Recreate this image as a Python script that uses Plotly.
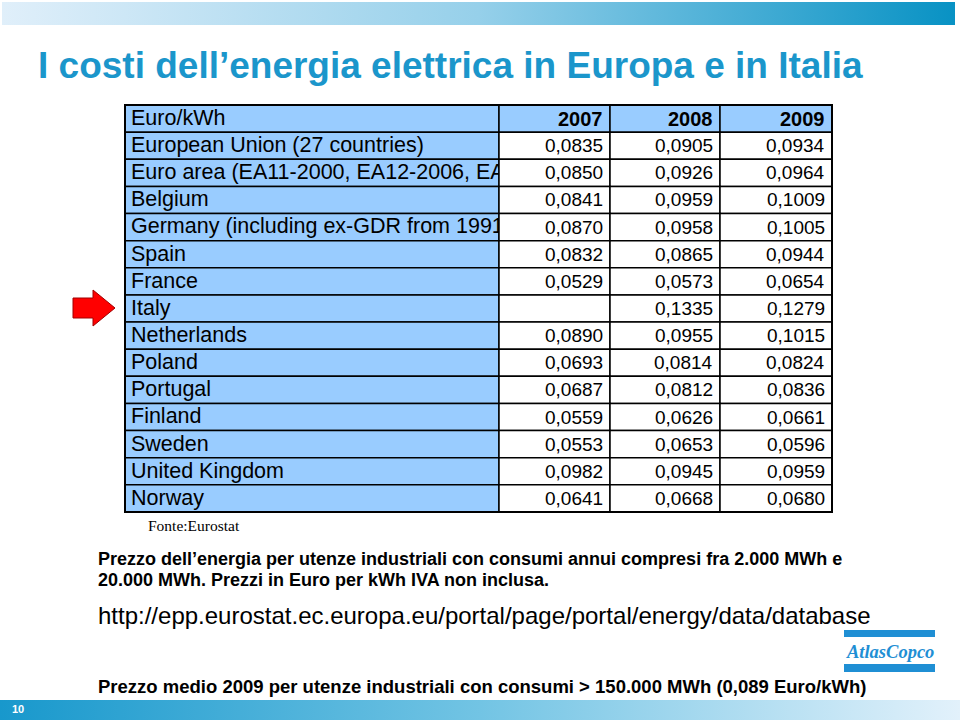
import plotly.graph_objects as go

# ---------------- data ----------------
header_label = "Euro/kWh"
years = ["2007", "2008", "2009"]
countries = [
    "European Union (27 countries)",
    "Euro area (EA11-2000, EA12-2006, EA",
    "Belgium",
    "Germany (including ex-GDR from 1991)",
    "Spain",
    "France",
    "Italy",
    "Netherlands",
    "Poland",
    "Portugal",
    "Finland",
    "Sweden",
    "United Kingdom",
    "Norway",
]
v2007 = [0.0835, 0.0850, 0.0841, 0.0870, 0.0832, 0.0529, None, 0.0890,
         0.0693, 0.0687, 0.0559, 0.0553, 0.0982, 0.0641]
v2008 = [0.0905, 0.0926, 0.0959, 0.0958, 0.0865, 0.0573, 0.1335, 0.0955,
         0.0814, 0.0812, 0.0626, 0.0653, 0.0945, 0.0668]
v2009 = [0.0934, 0.0964, 0.1009, 0.1005, 0.0944, 0.0654, 0.1279, 0.1015,
         0.0824, 0.0836, 0.0661, 0.0596, 0.0959, 0.0680]

title_text = "I costi dell\u2019energia elettrica in Europa e in Italia"
source_text = "Fonte:Eurostat"
note1 = "Prezzo dell\u2019energia per utenze industriali con consumi annui compresi fra 2.000 MWh e"
note2 = "20.000 MWh. Prezzi in Euro per kWh IVA non inclusa."
url_text = "http://epp.eurostat.ec.europa.eu/portal/page/portal/energy/data/database"
note3 = "Prezzo medio 2009 per utenze industriali con consumi > 150.000 MWh (0,089 Euro/kWh)"
page_no = "10"
logo_text = "AtlasCopco"

# ---------------- geometry / style ----------------
FONT = "Liberation Sans, Arial, sans-serif"
SERIF = "Liberation Serif, Times New Roman, serif"
CELL_BLUE = "#99ccff"
TITLE_BLUE = "#1b96cb"
LOGO_BLUE = "#1f8fd4"
col_edges = [125, 499, 610, 720, 832]
TOP = 105
RH = 27.13
n_rows = len(countries) + 1


def fmt(v):
    return "" if v is None else f"{v:.4f}".replace(".", ",")


def row_center(i):
    return TOP + RH * i + RH / 2


fig = go.Figure()

# top gradient bar
fig.add_trace(go.Scatter(
    x=[2, 955, 955, 2, 2], y=[2, 2, 25, 25, 2], mode="lines", fill="toself",
    line=dict(width=0), hoverinfo="skip", showlegend=False,
    fillgradient=dict(type="horizontal", start=2, stop=955,
                      colorscale=[[0, "#e0effa"], [0.5, "#96d0ea"], [1, "#0892c4"]]),
))
# bottom gradient bar
fig.add_trace(go.Scatter(
    x=[0, 960, 960, 0, 0], y=[700, 700, 720, 720, 700], mode="lines", fill="toself",
    line=dict(width=0), hoverinfo="skip", showlegend=False,
    fillgradient=dict(type="horizontal", start=0, stop=960,
                      colorscale=[[0, "#1898cc"], [0.5, "#72c4e4"], [1, "#e2f1fb"]]),
))

shapes = []
# label column cells (below text)
for i in range(n_rows):
    y0 = TOP + RH * i
    shapes.append(dict(type="rect", layer="below", x0=col_edges[0], x1=col_edges[1],
                       y0=y0, y1=y0 + RH, fillcolor=CELL_BLUE,
                       line=dict(color="black", width=1.5)))

# label texts (clipped by the value cells drawn above)
labels = [header_label] + countries
fig.add_trace(go.Scatter(
    x=[col_edges[0] + 6] * n_rows, y=[row_center(i) + 1 for i in range(n_rows)],
    mode="text", text=labels, textposition="middle right",
    textfont=dict(family=FONT, size=21.5, color="black"),
    hoverinfo="skip", showlegend=False,
))

# value cells (above label text)
for i in range(n_rows):
    y0 = TOP + RH * i
    for c in range(3):
        shapes.append(dict(type="rect", layer="above", x0=col_edges[c + 1], x1=col_edges[c + 2],
                           y0=y0, y1=y0 + RH, fillcolor=CELL_BLUE if i == 0 else "white",
                           line=dict(color="black", width=1.5)))
shapes.append(dict(type="rect", layer="above", x0=col_edges[0], x1=col_edges[-1],
                   y0=TOP, y1=TOP + RH * n_rows, line=dict(color="black", width=2)))

# red arrow
shapes.append(dict(type="path", layer="above",
                   path="M 73 298 L 93 298 L 93 290 L 115 308 L 93 326 L 93 318 L 73 318 Z",
                   fillcolor="#ff0000", line=dict(color="#a00000", width=1)))

# logo bars
shapes.append(dict(type="rect", layer="above", x0=844, x1=935, y0=630, y1=637,
                   fillcolor=LOGO_BLUE, line=dict(width=0)))
shapes.append(dict(type="rect", layer="above", x0=844, x1=935, y0=664, y1=672,
                   fillcolor=LOGO_BLUE, line=dict(width=0)))

annotations = []
# header years
for c, yr in enumerate(years):
    annotations.append(dict(x=col_edges[c + 2] - 5, y=row_center(0), text=f"<b>{yr}</b>",
                            xanchor="right", yanchor="middle", showarrow=False,
                            font=dict(family=FONT, size=20, color="black")))
# values
for c, series in enumerate([v2007, v2008, v2009]):
    for i, v in enumerate(series):
        if v is None:
            continue
        annotations.append(dict(x=col_edges[c + 2] - 5, y=row_center(i + 1), text=fmt(v),
                                xanchor="right", yanchor="middle", showarrow=False,
                                font=dict(family=FONT, size=19, color="black")))

# title and notes
annotations.append(dict(x=36, y=65, text=f"<b>{title_text}</b>", xanchor="left", yanchor="middle",
                        showarrow=False, font=dict(family=FONT, size=37, color=TITLE_BLUE)))
annotations.append(dict(x=146, y=525, text=source_text, xanchor="left", yanchor="middle",
                        showarrow=False, font=dict(family=SERIF, size=15.5, color="black")))
for txt, yy, sz in [(note1, 559, 18), (note2, 580, 18), (note3, 686, 18.5)]:
    annotations.append(dict(x=96, y=yy, text=f"<b>{txt}</b>", xanchor="left", yanchor="middle",
                            showarrow=False, font=dict(family=FONT, size=sz, color="black")))
annotations.append(dict(x=96, y=615, text=url_text, xanchor="left", yanchor="middle",
                        showarrow=False, font=dict(family=FONT, size=24, color="black")))
annotations.append(dict(x=18, y=709, text=f"<b>{page_no}</b>", xanchor="center", yanchor="middle",
                        showarrow=False, font=dict(family=FONT, size=11, color="white")))
annotations.append(dict(x=889.5, y=652, text=f"<b><i>{logo_text}</i></b>", xanchor="center",
                        yanchor="middle", showarrow=False,
                        font=dict(family=SERIF, size=18.5, color=LOGO_BLUE)))

fig.update_layout(
    width=960, height=720, autosize=False,
    margin=dict(l=0, r=0, t=0, b=0),
    paper_bgcolor="white", plot_bgcolor="white",
    xaxis=dict(range=[0, 960], visible=False, fixedrange=True),
    yaxis=dict(range=[720, 0], visible=False, fixedrange=True),
    shapes=shapes, annotations=annotations, showlegend=False,
)

fig.write_html("out.html", config={"displayModeBar": False},
               post_script="document.body.style.margin='0px';document.body.style.overflow='hidden';")
